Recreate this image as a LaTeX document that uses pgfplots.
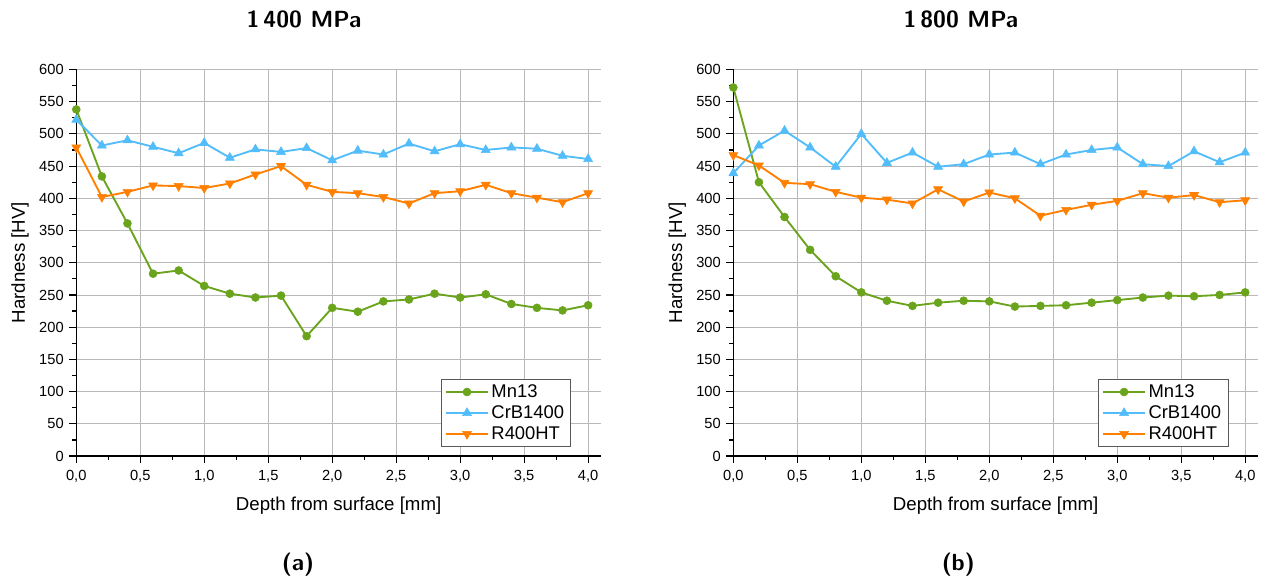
\documentclass[border=0pt]{standalone}
\usepackage{fontspec}
\setmainfont{Liberation Sans}
\usepackage{pgfplots}
\usepackage{pgfplotstable}
\pgfplotsset{compat=1.18}
\definecolor{cgreen}{RGB}{106,164,28}
\definecolor{cblue}{RGB}{82,189,250}
\definecolor{corange}{RGB}{255,128,0}
\pgfplotstableread{
x    mn    crb   r4
0.0  538   522   479
0.2  434   482   402
0.4  361   490   410
0.6  283   480   420
0.8  288   470   419
1.0  264   486   416
1.2  252   463   423
1.4  246   476   437
1.6  249   472   450
1.8  186   478   421
2.0  230   459   410
2.2  224   474   408
2.4  240   468   402
2.6  243   485   392
2.8  252   473   408
3.0  246   484   411
3.2  251   475   421
3.4  236   479   408
3.6  230   477   401
3.8  226   466   394
4.0  234   461   408
}\lefttab
\pgfplotstableread{
x    mn    crb   r4
0.0  572   439   467
0.2  425   482   451
0.4  371   505   424
0.6  320   479   422
0.8  279   449   410
1.0  254   500   401
1.2  241   455   398
1.4  233   471   392
1.6  238   449   414
1.8  241   453   395
2.0  240   468   409
2.2  232   471   400
2.4  233   453   373
2.6  234   468   382
2.8  238   475   390
3.0  242   479   396
3.2  246   453   408
3.4  249   450   401
3.6  248   473   405
3.8  250   456   394
4.0  254   471   397
}\righttab
\pgfplotsset{
  panel/.style={
    scale only axis, width=393.5pt, height=289.9pt,
    xmin=0, xmax=4.1, ymin=0, ymax=600,
    axis x line*=bottom, axis y line*=left,
    axis line style={line width=1.1pt, -},
    tick align=outside,
    major tick length=5.25pt, minor tick length=3pt,
    every tick/.style={black, line width=0.9pt},
    grid=major, major grid style={gray!55, line width=0.6pt},
    xtick={0,0.5,1,1.5,2,2.5,3,3.5,4},
    minor xtick={0.25,0.75,1.25,1.75,2.25,2.75,3.25,3.75},
    ytick={0,50,...,600},
    minor ytick={25,75,...,575},
    /pgf/number format/assume math mode=true,
    /pgf/number format/1000 sep={},
    xticklabel={\pgfmathprintnumber[fixed,fixed zerofill,precision=1,use comma]{\tick}},
    xticklabel style={font=\fontsize{11}{13}\selectfont, inner sep=0pt, anchor=north, yshift=-5.4pt},
    yticklabel style={font=\fontsize{11}{13}\selectfont, inner sep=0pt, anchor=east, xshift=-4pt},
    xlabel={Depth from surface [mm]}, ylabel={Hardness [HV]},
    label style={font=\fontsize{14}{16}\selectfont},
    xlabel style={at={(axis description cs:0.5,-0.142)}, anchor=base},
    ylabel style={at={(axis description cs:-0.107,0.5)}, anchor=center},
    legend style={at={(axis description cs:0.943,0.0233)}, anchor=south east,
      font=\fontsize{13.8}{16}\selectfont, draw=gray!70!black,
      cells={anchor=west}, row sep=0.6pt},
    legend image code/.code={\draw[mark repeat=2,mark phase=2,##1] plot coordinates {(0cm,0cm) (0.55cm,0cm) (1.1cm,0cm)};},
    legend entries={Mn13,CrB1400,R400HT},
  },
  sgreen/.style={color=cgreen, line width=1.4pt, mark=*, mark size=3pt, mark options={line width=0.4pt}},
  sblue/.style={color=cblue, line width=1.4pt, mark=triangle*, mark size=3.9pt, mark options={line width=0.4pt}},
  sorange/.style={color=corange, line width=1.4pt, mark=triangle*, mark size=3.9pt, mark options={line width=0.4pt, rotate=180}},
}
\begin{document}
\begin{tikzpicture}
\useasboundingbox (0pt,0pt) rectangle (946.5pt,-432.75pt);
\begin{axis}[panel, at={(57.2pt,-342pt)}, anchor=south west]
\addplot[sgreen] table[x=x,y=mn]{\lefttab};
\addplot[sblue] table[x=x,y=crb]{\lefttab};
\addplot[sorange] table[x=x,y=r4]{\lefttab};
\end{axis}
\begin{axis}[panel, at={(550pt,-342pt)}, anchor=south west]
\addplot[sgreen] table[x=x,y=mn]{\righttab};
\addplot[sblue] table[x=x,y=crb]{\righttab};
\addplot[sorange] table[x=x,y=r4]{\righttab};
\end{axis}
\node[font=\sffamily\bfseries\fontsize{17.5}{19}\selectfont, inner sep=0pt, anchor=base] at (228pt,-20.5pt) {1\,400~MPa};
\node[font=\sffamily\bfseries\fontsize{17.5}{19}\selectfont, inner sep=0pt, anchor=base] at (720.7pt,-20.5pt) {1\,800~MPa};
\node[font=\sffamily\bfseries\fontsize{17.5}{19}\selectfont, inner sep=0pt, anchor=north] at (223.5pt,-414.5pt) {(a)};
\node[font=\sffamily\bfseries\fontsize{17.5}{19}\selectfont, inner sep=0pt, anchor=north] at (718.7pt,-414.5pt) {(b)};
\end{tikzpicture}
\end{document}
